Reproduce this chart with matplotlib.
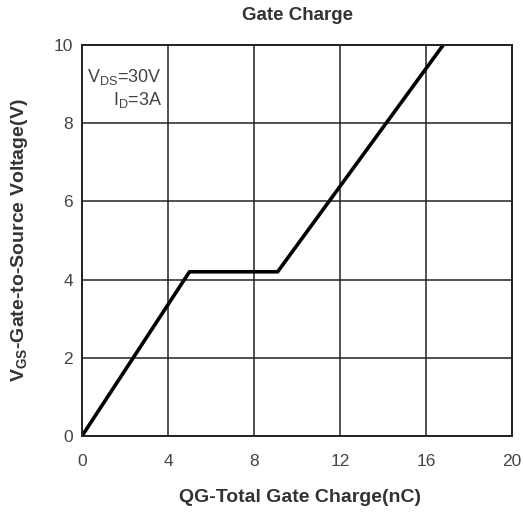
import matplotlib.pyplot as plt

plt.rcParams['font.family'] = ['Liberation Sans', 'DejaVu Sans']
plt.rcParams['mathtext.fontset'] = 'custom'
plt.rcParams['mathtext.rm'] = 'Liberation Sans'
plt.rcParams['mathtext.bf'] = 'Liberation Sans:bold'

# gate charge curve (nC, V)
qg = [0, 5.0, 9.1, 16.8]
vgs = [0, 4.2, 4.2, 10.0]
xticks = [0, 4, 8, 12, 16, 20]
yticks = [0, 2, 4, 6, 8, 10]

W, H = 523, 513
fig = plt.figure(figsize=(W / 100, H / 100), dpi=100)
ax = fig.add_axes([82 / W, 1 - 436 / H, 430 / W, 391 / H])

ax.plot(qg, vgs, color='black', lw=2.6, solid_capstyle='butt')
ax.set_xlim(0, 20)
ax.set_ylim(0, 10)
ax.set_xticks(xticks)
ax.set_yticks(yticks)
ax.grid(True, color='#222222', lw=1.1)
ax.tick_params(length=0, labelsize=12.5, colors='#444444')
ax.tick_params(axis='x', pad=13)
ax.tick_params(axis='y', pad=6.5)
for s in ax.spines.values():
    s.set_linewidth(1.4)
    s.set_color('#222222')

txt = dict(fontweight='bold', color='#333333', ha='center', va='center')
fig.text(298 / W, 1 - 16 / H, 'Gate Charge', fontsize=13.5, **txt)
fig.text(300 / W, 1 - 498 / H, 'QG-Total Gate Charge(nC)', fontsize=14, **txt)
fig.text(20 / W, 1 - 240 / H, r'$\mathbf{V_{GS}}$-Gate-to-Source Voltage(V)',
         fontsize=14, rotation=90, **txt)

ax.text(3.72, 9.18, r'V$_{\mathrm{DS}}$=30V', fontsize=13, ha='right', va='center', color='#444444')
ax.text(3.72, 8.59, r'I$_{\mathrm{D}}$=3A', fontsize=13, ha='right', va='center', color='#444444')

fig.savefig('out.png', dpi=100)
